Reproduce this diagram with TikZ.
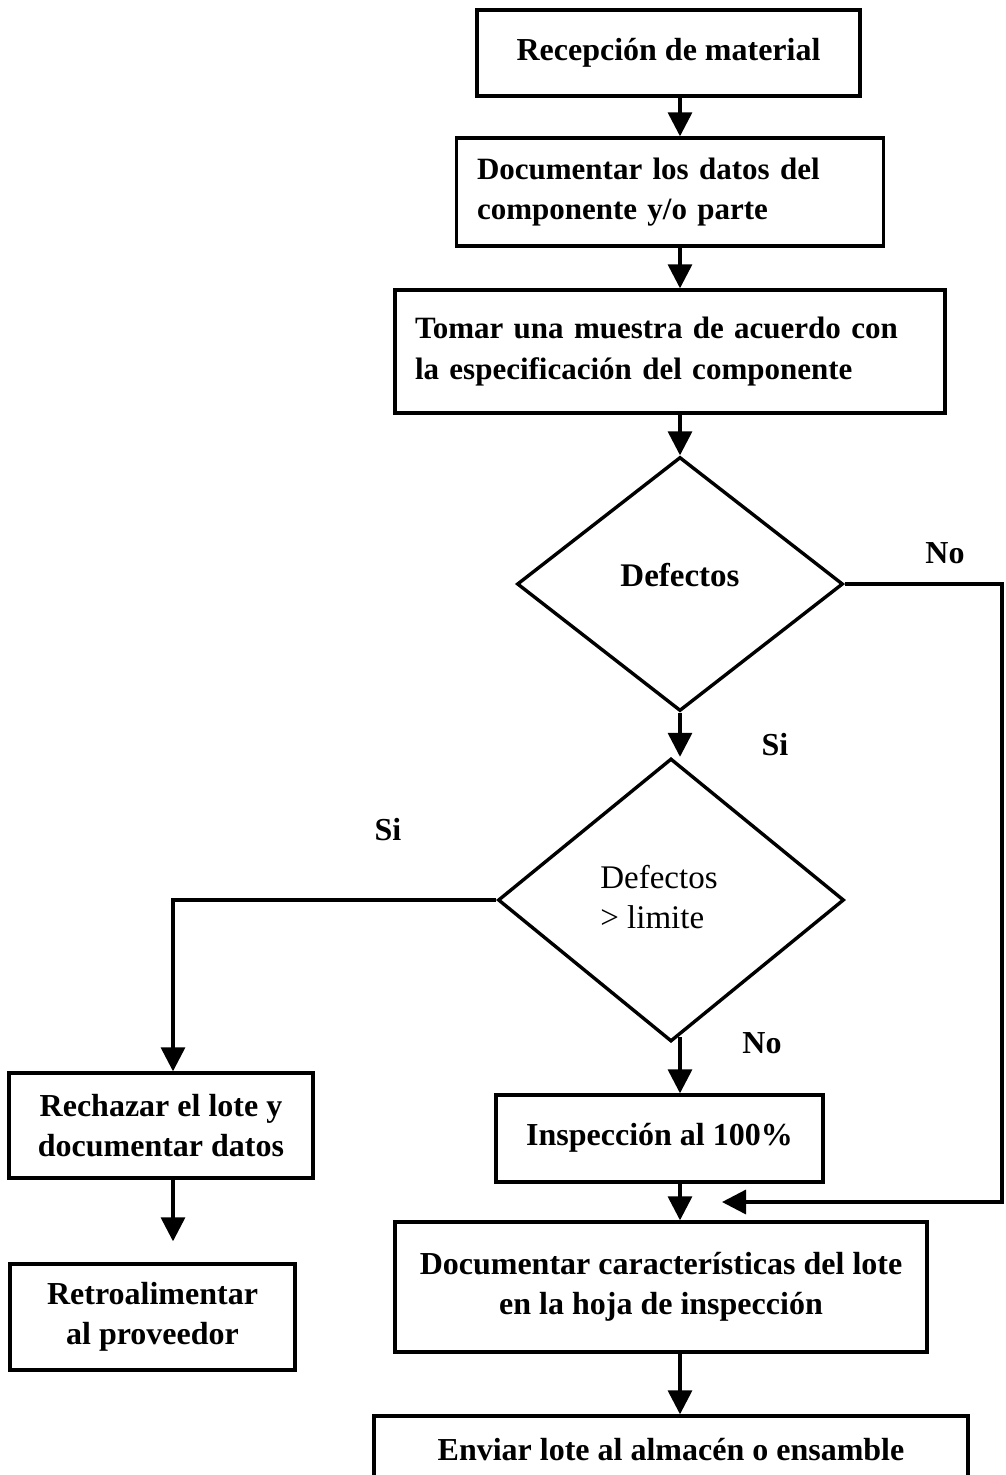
\documentclass[tikz,border=0pt]{standalone}
\usepackage{fontspec}
\setmainfont{Liberation Serif}
\usetikzlibrary{shapes.geometric,arrows.meta}

\tikzset{
  boxnode/.style={draw, line width=3.4pt, rectangle, inner sep=0pt,
    font=\fontsize{32}{40}\selectfont\bfseries},
  narrowtext/.style={font=\fontsize{31}{40.5}\selectfont\bfseries},
  decision/.style={draw, line width=3.4pt, diamond, inner sep=0pt,
    font=\fontsize{33}{40}\selectfont},
  flow/.style={line width=3.4pt, -{Triangle[length=24pt,width=24pt]}},
  answer/.style={font=\fontsize{32}{40}\selectfont\bfseries, inner sep=0pt}
}

\begin{document}
\begin{tikzpicture}[x=1pt, y=-1pt]
  \useasboundingbox (0,0) rectangle (1005,1475);

  % main process column
  \node[boxnode, minimum width=383pt, minimum height=86pt] (recep) at (668.5,53)
    {\raisebox{8pt}{Recepción de material}};
  \node[boxnode, narrowtext, minimum width=427pt, minimum height=108pt,
        text width=386pt, align=left] (docdatos) at (670,192)
    {Documentar los datos del\\componente y/o parte};
  \node[boxnode, narrowtext, minimum width=550pt, minimum height=123pt,
        text width=510pt, align=left] (muestra) at (670,351.5)
    {Tomar una muestra de acuerdo con\\la especificación del componente};

  % decisions
  \node[decision, minimum width=326pt, minimum height=254pt,
        font=\fontsize{33}{41}\selectfont\bfseries]
    (defectos) at (680,584) {\raisebox{18pt}{Defectos}};
  \node[decision, minimum width=346pt, minimum height=283pt]
    (limite) at (671,900)
    {\hspace*{-24pt}\raisebox{14pt}{\begin{tabular}{@{}l@{}}Defectos\\> limite\end{tabular}}};

  % rejection branch
  \node[boxnode, minimum width=304pt, minimum height=105pt, align=center]
    (rechazo) at (161,1125.5) {Rechazar el lote y\\documentar datos};
  \node[boxnode, minimum width=285pt, minimum height=106pt, align=center]
    (retro) at (152.5,1317) {Retroalimentar\\al proveedor};

  % acceptance branch
  \node[boxnode, minimum width=327pt, minimum height=87pt]
    (inspeccion) at (659.5,1138.5) {\raisebox{8pt}{Inspección al 100\%}};
  \node[boxnode, minimum width=532pt, minimum height=130pt, align=center]
    (hoja) at (661,1287) {Documentar características del lote\\en la hoja de inspección};
  \node[boxnode, minimum width=594pt, minimum height=68pt]
    (enviar) at (671,1450) {Enviar lote al almacén o ensamble};

  % answer labels
  \node[answer] (noA) at (945,553) {No};
  \node[answer] (siA) at (775,745) {Si};
  \node[answer] (siB) at (388,830) {Si};
  \node[answer] (noB) at (762,1043) {No};

  % helper points for the return path
  \coordinate (rightrail) at (1002,0);
  \coordinate (retorno) at (722,1202);

  % connectors
  \draw[flow] (recep.south -| defectos) -- (docdatos.north -| defectos);
  \draw[flow] (docdatos.south -| defectos) -- (muestra.north -| defectos);
  \draw[flow] (muestra.south -| defectos) -- (defectos.north);
  \draw[flow] (defectos.south) -- (limite.north -| defectos);
  \draw[flow] ([yshift=6pt]limite.south -| defectos) -- (inspeccion.north -| defectos);
  \draw[flow] (inspeccion.south -| defectos) -- (hoja.north -| defectos);
  \draw[flow] (hoja.south -| defectos) -- (enviar.north -| defectos);

  \draw[flow] (limite.west) -| ([xshift=12pt]rechazo.north);
  \draw[flow, shorten >=21pt] ([xshift=12pt]rechazo.south) -- ([xshift=20.5pt]retro.north);

  \draw[flow] (defectos.east) -| (rightrail |- retorno) -- (retorno);
\end{tikzpicture}
\end{document}
